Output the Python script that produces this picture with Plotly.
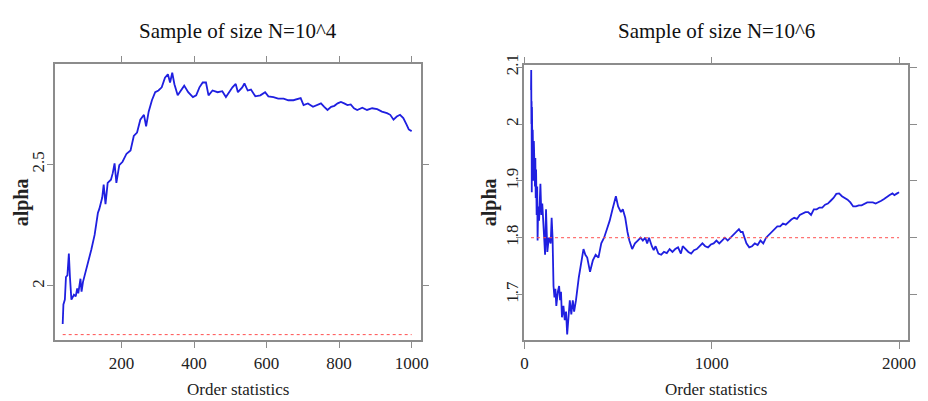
import plotly.graph_objects as go

# Left panel: N = 10^4
left_x = [38, 40, 44, 47, 51, 55, 58, 62, 69, 74, 78, 81, 87, 90, 94, 101, 108, 117, 126, 135,
          139, 147, 151, 156, 162, 171, 176, 181, 186, 194, 203, 214, 225, 234, 243, 252, 262, 268, 275, 284,
          293, 302, 311, 320, 328, 334, 340, 346, 355, 366, 373, 384, 397, 406, 415, 424, 433, 440, 451, 465,
          478, 488, 497, 506, 515, 521, 533, 539, 548, 557, 569, 583, 596, 605, 619, 632, 647, 660, 674, 687,
          694, 702, 714, 728, 741, 750, 759, 768, 778, 787, 796, 805, 814, 823, 832, 841, 850, 864, 877, 891,
          905, 918, 932, 941, 950, 959, 968, 977, 986, 992, 1000]
left_y = [1.844, 1.924, 1.944, 2.037, 2.044, 2.133, 2.037, 1.944, 1.964, 1.957, 1.99, 1.97, 2.03, 1.977, 2.017, 2.057, 2.09, 2.15, 2.21, 2.30,
          2.317, 2.364, 2.417, 2.337, 2.424, 2.437, 2.464, 2.504, 2.424, 2.497, 2.511, 2.544, 2.557, 2.617, 2.631, 2.684, 2.704, 2.657, 2.717, 2.764,
          2.797, 2.804, 2.817, 2.857, 2.871, 2.837, 2.877, 2.83, 2.784, 2.81, 2.824, 2.797, 2.777, 2.784, 2.817, 2.837, 2.837, 2.784, 2.804, 2.797,
          2.801, 2.777, 2.797, 2.817, 2.831, 2.797, 2.817, 2.833, 2.804, 2.808, 2.78, 2.784, 2.797, 2.78, 2.777, 2.771, 2.771, 2.764, 2.764, 2.771,
          2.773, 2.744, 2.751, 2.737, 2.744, 2.751, 2.737, 2.724, 2.737, 2.741, 2.751, 2.757, 2.751, 2.744, 2.747, 2.731, 2.724, 2.733, 2.724, 2.731,
          2.727, 2.717, 2.711, 2.704, 2.684, 2.697, 2.704, 2.691, 2.664, 2.644, 2.637]

# Right panel: N = 10^6
right_x = [35, 36, 37, 38, 39, 40, 41, 42, 43, 44, 45, 47, 48, 50, 52, 54, 56, 58, 60, 62,
           65, 68, 70, 73, 78, 85, 90, 95, 105, 110,
           115, 122, 130, 140, 145, 150, 155, 160, 165, 170, 178, 185, 190, 195, 200, 208, 215, 222, 228, 235,
           242, 250, 258, 265, 275, 290, 305, 315, 325, 335, 350, 365, 380, 395, 410, 425, 440, 455, 470, 480,
           488, 500, 515, 525, 538, 550, 560, 575, 590, 605, 620, 632, 645, 655, 665, 680, 690, 700, 715, 730,
           745, 760, 775, 790, 805, 820, 835, 845, 860, 875, 890, 905, 920, 935, 950, 965, 980, 995, 1010, 1025,
           1040, 1055, 1070, 1085, 1100, 1115, 1130, 1145, 1155, 1165, 1175, 1185, 1200, 1215, 1230, 1245, 1260, 1275, 1290, 1305,
           1320, 1335, 1350, 1365, 1380, 1395, 1410, 1425, 1440, 1455, 1470, 1485, 1500, 1515, 1530, 1545, 1560, 1575, 1590, 1605,
           1620, 1635, 1650, 1665, 1680, 1695, 1710, 1725, 1740, 1755, 1770, 1785, 1800, 1815, 1830, 1845, 1860, 1875, 1890, 1905,
           1920, 1935, 1950, 1965, 1975, 1990, 2000]
right_y = [2.06, 2.095, 2.0, 2.04, 1.88, 2.03, 1.95, 2.0, 1.92, 1.99, 1.93, 1.98, 1.90, 1.97, 1.92, 1.96, 1.89, 1.94, 1.87, 1.92,
           1.84, 1.89, 1.795, 1.855, 1.83, 1.895, 1.84, 1.86, 1.80, 1.77,
           1.85, 1.775, 1.80, 1.79, 1.835, 1.80, 1.715, 1.695, 1.71, 1.68, 1.705, 1.715, 1.69, 1.705, 1.66, 1.68, 1.655, 1.67, 1.63, 1.665,
           1.69, 1.665, 1.69, 1.67, 1.69, 1.73, 1.76, 1.78, 1.77, 1.765, 1.74, 1.76, 1.77, 1.765, 1.79, 1.80, 1.815, 1.83, 1.85, 1.865,
           1.873, 1.855, 1.845, 1.85, 1.835, 1.81, 1.795, 1.78, 1.79, 1.795, 1.80, 1.795, 1.80, 1.79, 1.80, 1.785, 1.778, 1.785, 1.772, 1.77,
           1.775, 1.773, 1.78, 1.775, 1.78, 1.783, 1.772, 1.785, 1.78, 1.775, 1.772, 1.778, 1.78, 1.785, 1.79, 1.785, 1.783, 1.788, 1.79, 1.795,
           1.79, 1.795, 1.80, 1.795, 1.80, 1.805, 1.81, 1.815, 1.81, 1.81, 1.80, 1.79, 1.783, 1.785, 1.79, 1.787, 1.795, 1.79, 1.80, 1.805,
           1.81, 1.815, 1.82, 1.82, 1.825, 1.823, 1.828, 1.832, 1.835, 1.833, 1.84, 1.843, 1.845, 1.845, 1.84, 1.85, 1.85, 1.853, 1.853, 1.858,
           1.86, 1.865, 1.87, 1.877, 1.878, 1.873, 1.87, 1.867, 1.862, 1.855, 1.855, 1.857, 1.857, 1.86, 1.862, 1.862, 1.862, 1.86, 1.862, 1.865,
           1.868, 1.872, 1.875, 1.878, 1.875, 1.878, 1.88]

true_alpha = 1.8
titles = ["Sample of size N=10^4", "Sample of size N=10^6"]
x_label = "Order statistics"
y_label = "alpha"
left_xticks = [200, 400, 600, 800, 1000]
left_yticks = [2, 2.5]
right_xticks = [0, 1000, 2000]
right_yticks = [1.7, 1.8, 1.9, 2, 2.1]

W, H = 928, 401
FONT = "Liberation Serif"
BLUE = "#1f1fe0"
RED = "#ff5050"
BOX = "#8c8c8c"

fig = go.Figure()

fig.add_trace(go.Scatter(x=left_x, y=left_y, mode="lines", line=dict(color=BLUE, width=1.8),
                         xaxis="x", yaxis="y", showlegend=False))
fig.add_trace(go.Scatter(x=[left_x[0], left_x[-1]], y=[true_alpha, true_alpha], mode="lines",
                         line=dict(color=RED, width=1, dash="dot"), xaxis="x", yaxis="y", showlegend=False))
fig.add_trace(go.Scatter(x=right_x, y=right_y, mode="lines", line=dict(color=BLUE, width=1.8),
                         xaxis="x2", yaxis="y2", showlegend=False))
fig.add_trace(go.Scatter(x=[right_x[0], right_x[-1]], y=[true_alpha, true_alpha], mode="lines",
                         line=dict(color=RED, width=1, dash="dot"), xaxis="x2", yaxis="y2", showlegend=False))

def px_x(p):
    return p / W

def px_y(p):
    return 1 - p / H

axis_common = dict(showline=True, mirror="ticks", linecolor=BOX, linewidth=1.5,
                   ticks="outside", ticklen=7, tickcolor=BOX, tickwidth=1.2,
                   showgrid=False, zeroline=False,
                   tickfont=dict(family=FONT, size=17, color="#222222"))

L = (52, 422, 55, 338)
R = (527.3, 915.7, 56, 338.3)

fig.update_layout(
    width=W, height=H,
    margin=dict(l=0, r=0, t=0, b=0),
    paper_bgcolor="white", plot_bgcolor="white",
    xaxis=dict(domain=[px_x(L[0]), px_x(L[1])], range=[17.7, 1024.5], tickmode="array",
               tickvals=left_xticks, anchor="y", **axis_common),
    yaxis=dict(domain=[px_y(L[3]), px_y(L[2])], range=[1.779, 2.911], tickmode="array",
               tickvals=left_yticks, tickangle=-90, anchor="x", ticklabelstandoff=-4, **axis_common),
    xaxis2=dict(domain=[px_x(R[0]), px_x(R[1])], range=[0, 2047], tickmode="array",
                tickvals=right_xticks, anchor="y2", **axis_common),
    yaxis2=dict(domain=[px_y(R[3]), px_y(R[2])], range=[1.62, 2.103], tickmode="array",
                tickvals=right_yticks, tickangle=-90, anchor="x2", ticklabelstandoff=-9, **axis_common),
)

ann = []
for (box, title, ylab_x) in [(L, titles[0], 18), (R, titles[1], 492)]:
    cx = (box[0] + box[1]) / 2
    ann.append(dict(x=px_x(cx), y=px_y(21), xref="paper", yref="paper", text=title, showarrow=False,
                    xanchor="center", yanchor="middle", font=dict(family=FONT, size=21, color="#111111")))
    ann.append(dict(x=px_x(cx), y=px_y(389), xref="paper", yref="paper", text=x_label, showarrow=False,
                    xanchor="center", yanchor="middle", font=dict(family=FONT, size=17, color="#222222")))
    ann.append(dict(x=px_x(ylab_x), y=px_y(197), xref="paper", yref="paper", text="<b>" + y_label + "</b>",
                    showarrow=False, textangle=-90, xanchor="center", yanchor="middle",
                    font=dict(family=FONT, size=20, color="#222222")))
fig.update_layout(annotations=ann)

fig.write_html("out.html")
